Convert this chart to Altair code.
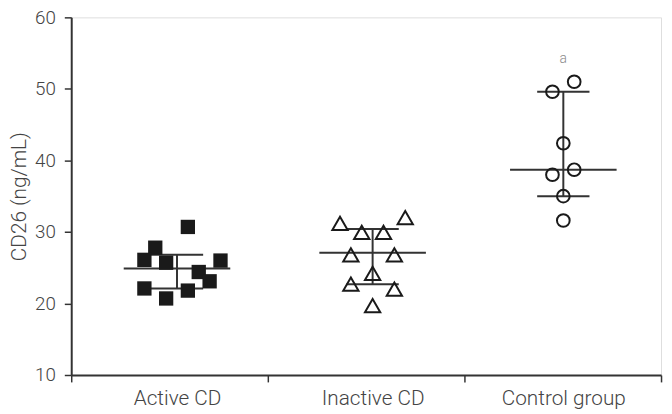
import altair as alt
import pandas as pd

# ---- data ----
groups = ["Active CD", "Inactive CD", "Control group"]
group_pos = [0.538, 1.533, 2.503]          # group centres on the x scale (band units)
band_edges = [0, 1, 2, 3]

active_vals = [30.7, 27.8, 26.1, 25.7, 26.0, 24.4, 23.1, 22.1, 21.8, 20.7]
active_jit = [1, -2, -3, -1, 4, 2, 3, -3, 1, -1]
inactive_vals = [31.2, 32.0, 29.95, 29.95, 26.8, 26.8, 24.2, 22.7, 22.0, 19.7]
inactive_jit = [-3, 3, -1, 1, -2, 2, 0, -2, 2, 0]
control_vals = [51.0, 49.6, 42.4, 38.7, 38.0, 35.0, 31.6]
control_jit = [1, -1, 0, 1, -1, 0, 0]

centre_vals = [24.9, 27.1, 38.7]
upper_vals = [26.8, 30.4, 49.6]
lower_vals = [22.1, 22.7, 35.0]

sig_group = ["Control group"]
sig_text = ["a"]
sig_y = [54.2]

y_ticks = [10, 20, 30, 40, 50, 60]

# ---- styling ----
JIT_STEP = 0.0553     # horizontal spacing of scattered points
LONG_HALF = 0.271     # half width of the centre line
SHORT_HALF = 0.133    # half width of the upper / lower lines
INK = "#1a1a1a"
AXIS = "#333333"
TXT = "#444444"
FONT = "Roboto"

pos_of = dict(zip(groups, group_pos))

def points(vals, jit, g):
    return pd.DataFrame({
        "group": g,
        "x": [pos_of[g] + j * JIT_STEP for j in jit],
        "y": vals,
    })

df_a = points(active_vals, active_jit, groups[0])
df_i = points(inactive_vals, inactive_jit, groups[1])
df_c = points(control_vals, control_jit, groups[2])

stats = pd.DataFrame({
    "group": groups,
    "pos": group_pos,
    "centre": centre_vals,
    "upper": upper_vals,
    "lower": lower_vals,
})
stats["l_long"] = stats["pos"] - LONG_HALF
stats["r_long"] = stats["pos"] + LONG_HALF
stats["l_short"] = stats["pos"] - SHORT_HALF
stats["r_short"] = stats["pos"] + SHORT_HALF

sig = pd.DataFrame({"x": [pos_of[g] for g in sig_group], "y": sig_y, "t": sig_text})

label_expr = " : ".join(
    f"(datum.value > {i} && datum.value < {i+1}) ? '{g}'" for i, g in enumerate(groups)
) + " : ''"

x_scale = alt.Scale(domain=[0, 3], nice=False, zero=False)
y_scale = alt.Scale(domain=[10, 60], nice=False, zero=False)

x_axis = alt.Axis(
    values=sorted(band_edges + group_pos),
    labelExpr=label_expr,
    tickOpacity={"condition": {"test": "datum.value % 1 == 0", "value": 1}, "value": 0},
    tickSize=7, tickWidth=1.5, tickColor=AXIS,
    domainColor=AXIS, domainWidth=2,
    labelFont=FONT, labelFontWeight=300, labelFontSize=21, labelColor=TXT,
    labelPadding=6, labelOverlap=False, labelFlush=False, labelBound=False,
    grid=False, title=None,
)
y_axis = alt.Axis(
    values=y_ticks,
    tickSize=7, tickWidth=1.5, tickColor=AXIS,
    domainColor=AXIS, domainWidth=2,
    labelFont=FONT, labelFontWeight=300, labelFontSize=19, labelColor=TXT,
    labelPadding=9,
    grid=False,
    title="CD26 (ng/mL)", titleFont=FONT, titleFontWeight=300, titleFontSize=21,
    titleColor=TXT, titlePadding=5,
)

X = lambda f: alt.X(f, type="quantitative", scale=x_scale, axis=x_axis)
Y = lambda f: alt.Y(f, type="quantitative", scale=y_scale, axis=y_axis)

base = alt.Chart(stats)
vert = base.mark_rule(color=AXIS, strokeWidth=2).encode(
    x=X("pos"), y=Y("lower"), y2="upper")
mid = base.mark_rule(color=AXIS, strokeWidth=2).encode(
    x=X("l_long"), x2="r_long", y=Y("centre"))
up = base.mark_rule(color=AXIS, strokeWidth=2).encode(
    x=X("l_short"), x2="r_short", y=Y("upper"))
lo = base.mark_rule(color=AXIS, strokeWidth=2).encode(
    x=X("l_short"), x2="r_short", y=Y("lower"))

sq = alt.Chart(df_a).mark_point(shape="square", filled=True, color=INK, size=210, opacity=1).encode(
    x=X("x"), y=Y("y"))
tri = alt.Chart(df_i).mark_point(shape="triangle-up", filled=False, color=INK, strokeWidth=2,
                                 size=240, opacity=1).encode(x=X("x"), y=Y("y"))
cir = alt.Chart(df_c).mark_point(shape="circle", filled=False, color=INK, strokeWidth=2,
                                 size=165, opacity=1).encode(x=X("x"), y=Y("y"))

txt = alt.Chart(sig).mark_text(font=FONT, fontWeight=300, fontSize=14, color="#8a8a8a").encode(
    x=X("x"), y=Y("y"), text="t:N")

chart = alt.layer(vert, mid, up, lo, sq, tri, cir, txt).properties(
    width=597, height=362,
    autosize=alt.AutoSizeParams(type="none"),
    padding={"left": 64, "top": 7, "right": 3, "bottom": 37},
).configure_view(stroke=None).configure(background="white")

chart.save("out.html", embed_options={"renderer": "svg", "actions": False})
